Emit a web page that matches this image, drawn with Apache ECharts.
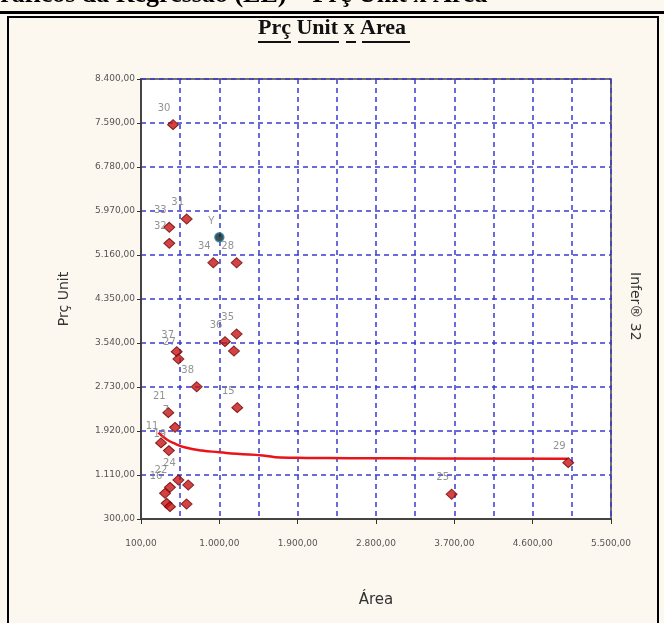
<!DOCTYPE html>
<html><head><meta charset="utf-8">
<script src="https://cdn.jsdelivr.net/npm/echarts@6/dist/echarts.min.js"></script>
<style>html,body{margin:0;padding:0;background:#fdf8ef;}#c{width:664px;height:623px;}</style>
</head><body><div id="c"></div>
<script>
// Data
const pointLabels = ['30','31','33','32','34','28','35','36','','37','27','38','15','21','7','11','19','24','22','16','','','','','25','29'];
const areaVals    = [468, 625, 425, 425, 931, 1199, 1199, 1065, 1168, 510, 530, 740, 1206, 414, 491, 330, 420, 530, 433, 376, 395, 433, 643, 624, 3669, 5009];
const precoVals   = [7560, 5823, 5670, 5375, 5018, 5018, 3706, 3564, 3393, 3380, 3245, 2735, 2349, 2257, 1988, 1700, 1560, 1018, 883, 773, 589, 527, 926, 576, 755, 1337];
const pointYArea = [1000];
const pointYPreco = [5486];
const curveX = [300, 400, 500, 600, 800, 1000, 1200, 1500, 1700, 2000, 2500, 3500, 5000];
const curveY = [1890, 1760, 1680, 1620, 1560, 1530, 1500, 1470, 1430, 1425, 1420, 1415, 1410];
const xTicks = {min: 100, max: 5500, step: 900};
const yTicks = {min: 300, max: 8400, step: 810};

function fmt(v){
  const s = Math.round(v).toString().replace(/\B(?=(\d{3})+(?!\d))/g, '.');
  return s + ',00';
}
const pts = areaVals.map((a,i)=>({value:[a, precoVals[i]], name: pointLabels[i]}));
const chart = echarts.init(document.getElementById('c'));
const blue = '#3a3ad0';
chart.setOption({
  backgroundColor: '#fdf8ef',
  animation: false,
  grid: {left: 141, top: 79, width: 470, height: 440, show: true, backgroundColor: '#ffffff', borderColor: '#444', borderWidth: 1.5},
  graphic: [
    {type:'text', left: -20, top: -18, style:{text:'Gráficos da Regressão (LE) – Prç Unit x Área', font:'bold 26px "Liberation Serif", serif', fill:'#000'}},
    {type:'rect', shape:{x:0, y:11, width:664, height:3}, style:{fill:'#000'}},
    {type:'rect', shape:{x:8, y:17, width:650, height:620}, style:{fill:'none', stroke:'#000', lineWidth:2}},
    {type:'text', left: 'center', top: 17, style:{text:'Prç Unit x Area', font:'bold 22px "Liberation Serif", serif', fill:'#111'}},
    {type:'rect', shape:{x:258, y:41, width:33, height:2}, style:{fill:'#111'}},
    {type:'rect', shape:{x:298, y:41, width:41, height:2}, style:{fill:'#111'}},
    {type:'rect', shape:{x:346, y:41, width:10, height:2}, style:{fill:'#111'}},
    {type:'rect', shape:{x:362, y:41, width:48, height:2}, style:{fill:'#111'}},
    {type:'text', x: 642, y: 272, rotation: -Math.PI/2, style:{text:'Infer® 32', font:'14px "DejaVu Sans", sans-serif', fill:'#333'}}
  ],
  xAxis: {
    type:'value', min:xTicks.min, max:xTicks.max, interval:xTicks.step,
    name:'Área', nameLocation:'middle', nameGap:74, nameTextStyle:{fontSize:15, color:'#333', fontFamily:'DejaVu Sans'},
    axisLine:{show:true, onZero:false, lineStyle:{color:'#444', width:2}},
    axisTick:{show:true, inside:false, length:5, lineStyle:{color:'#333'}},
    axisLabel:{formatter:fmt, fontSize:9, color:'#555', margin:20, fontFamily:'DejaVu Sans'},
    splitLine:{show:true, lineStyle:{color:blue, type:[5,4], width:1.5}},
    minorTick:{show:false, splitNumber:2},
    minorSplitLine:{show:true, lineStyle:{color:blue, type:[5,4], width:1.5}}
  },
  yAxis: {
    type:'value', min:yTicks.min, max:yTicks.max, interval:yTicks.step,
    name:'Prç Unit', nameLocation:'middle', nameGap:70, nameTextStyle:{fontSize:14, color:'#333', fontFamily:'DejaVu Sans'},
    axisLine:{show:true, onZero:false, lineStyle:{color:'#444', width:2}},
    axisTick:{show:true, length:4, lineStyle:{color:'#333'}},
    axisLabel:{formatter:fmt, fontSize:9, color:'#555', margin:6, fontFamily:'DejaVu Sans'},
    splitLine:{show:true, lineStyle:{color:blue, type:[5,4], width:1.5}}
  },
  series: [
    {type:'line', data: curveX.map((x,i)=>[x, curveY[i]]), smooth:true, symbol:'none', lineStyle:{color:'#e8141a', width:2.5}, z:2},
    {type:'scatter', data: pts, symbol:'diamond', symbolSize:[11,10],
      itemStyle:{color:'#c81414', borderColor:'#6a0000', borderWidth:1},
      label:{show:true, formatter: p=>p.name, position:'top', offset:[-9,-1], fontSize:10, color:'#777', fontFamily:'DejaVu Sans'}, z:3},
    {type:'scatter', data: pointYArea.map((x,i)=>({value:[x, pointYPreco[i]], name:'Y'})), symbol:'circle', symbolSize:9,
      itemStyle:{color:'#10202a', borderColor:'#2a8a9a', borderWidth:1.5},
      label:{show:true, formatter:'Y', position:'top', offset:[-8,-1], fontSize:10, color:'#777'}, z:4}
  ]
});
</script></body></html>
